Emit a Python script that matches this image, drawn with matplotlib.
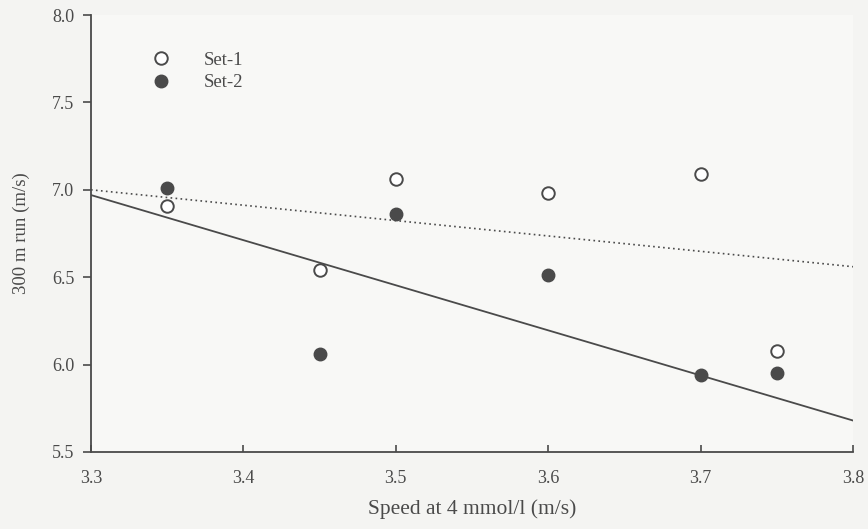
import matplotlib.pyplot as plt

# Speed at 4 mmol/l (m/s) vs 300 m run (m/s)
set1_x = [3.35, 3.45, 3.50, 3.60, 3.70, 3.75]
set1_y = [6.91, 6.54, 7.06, 6.98, 7.09, 6.08]
set2_x = [3.35, 3.45, 3.50, 3.60, 3.70, 3.75]
set2_y = [7.01, 6.06, 6.86, 6.51, 5.94, 5.95]

# regression lines (ends at x = 3.3 and 3.8)
line_x = [3.3, 3.8]
solid_y = [6.97, 5.68]
dotted_y = [7.00, 6.56]

GREY = '#4a4a4a'

plt.rcParams['font.family'] = ['Liberation Serif', 'DejaVu Serif']

fig = plt.figure(figsize=(8.68, 5.29), dpi=100, facecolor='#f4f4f2')
ax = fig.add_axes([0.1048, 0.1456, 0.8779, 0.826])
ax.set_facecolor('#f8f8f6')

ax.plot(line_x, solid_y, color=GREY, lw=1.3, zorder=2)
ax.plot(line_x, dotted_y, color=GREY, lw=1.2, ls=(0, (1, 2)), zorder=2)

ax.plot(set1_x, set1_y, 'o', ms=9, mfc='white', mec=GREY, mew=1.4,
        ls='none', label='Set-1', zorder=3)
ax.plot(set2_x, set2_y, 'o', ms=9, mfc=GREY, mec=GREY, mew=1.0,
        ls='none', label='Set-2', zorder=3)

ax.set_xlim(3.3, 3.8)
ax.set_ylim(5.5, 8.0)
ax.set_xticks([3.3, 3.4, 3.5, 3.6, 3.7, 3.8])
ax.set_yticks([5.5, 6.0, 6.5, 7.0, 7.5, 8.0])
ax.set_xticklabels(['3.3', '3.4', '3.5', '3.6', '3.7', '3.8'])
ax.set_yticklabels(['5.5', '6.0', '6.5', '7.0', '7.5', '8.0'])

for s in ['top', 'right']:
    ax.spines[s].set_visible(False)
for s in ['left', 'bottom']:
    ax.spines[s].set_color(GREY)
    ax.spines[s].set_linewidth(1.3)

ax.tick_params(axis='x', direction='in', length=5, width=1.2, colors=GREY,
               labelsize=13, pad=13)
ax.tick_params(axis='y', direction='out', length=6, width=1.2, colors=GREY,
               labelsize=13, pad=6)

ax.set_xlabel('Speed at 4 mmol/l (m/s)', fontsize=15.5, color=GREY, labelpad=9)
ax.set_ylabel('300 m run (m/s)', fontsize=13.5, color=GREY, labelpad=16)

ax.legend(loc='upper left', bbox_to_anchor=(0.045, 0.955), frameon=False,
          fontsize=13.5, labelcolor=GREY, handletextpad=1.3, labelspacing=0.3)

fig.savefig('out.png', dpi=100, facecolor=fig.get_facecolor())
